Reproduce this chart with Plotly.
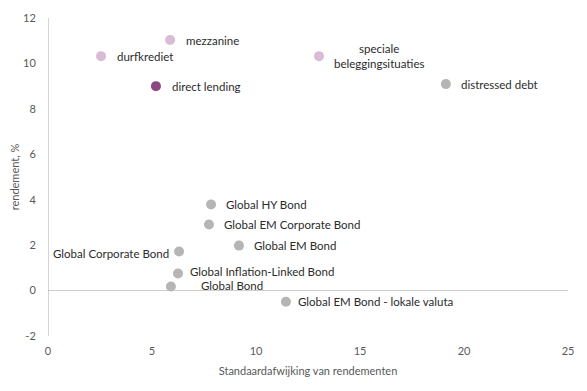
import plotly.graph_objects as go

names = ["durfkrediet", "mezzanine", "direct lending", "speciale<br>beleggingsituaties",
         "distressed debt", "Global HY Bond", "Global EM Corporate Bond", "Global EM Bond",
         "Global Corporate Bond", "Global Inflation-Linked Bond", "Global Bond",
         "Global EM Bond - lokale valuta"]
risk = [2.55, 5.87, 5.19, 13.03, 19.13, 7.84, 7.74, 9.18, 6.30, 6.25, 5.91, 11.44]
ret = [10.32, 11.03, 9.0, 10.32, 9.09, 3.79, 2.91, 1.98, 1.72, 0.75, 0.18, -0.49]
groups = ["light", "light", "dark", "light", "grey", "grey", "grey", "grey", "grey", "grey", "grey", "grey"]
y_ticks = [-2, 0, 2, 4, 6, 8, 10, 12]
y_ticklabels = ["-2", "0", "2", "4", "6", "8", "10", "12"]
x_ticks = [0, 5, 10, 15, 20, 25]

colors = {"light": "#d7bcd4", "dark": "#8a4a80", "grey": "#b5b5b5"}
# label placement (style only)
xanchors = ["left", "left", "left", "center", "left", "left", "left", "left", "right", "left", "left", "left"]
xshifts = [14, 14, 14, 60, 13, 13, 13, 13, -8, 10, 28, 10]
yshifts = [0, 0, 0, 0, 0, 0, 0, 0, -2, 2, 1, 0]

fig = go.Figure()
fig.add_trace(go.Scatter(
    x=risk, y=ret, mode="markers",
    marker=dict(size=10, color=[colors[g] for g in groups], line=dict(width=0)),
    hoverinfo="skip", showlegend=False))

for n, xv, yv, xa, xs, ys in zip(names, risk, ret, xanchors, xshifts, yshifts):
    fig.add_annotation(x=xv, y=yv, text=n, showarrow=False, xanchor=xa, yanchor="middle",
                       xshift=xs, yshift=ys, align="center",
                       font=dict(size=11.5, color="#2b2b2b", family="Lato"))

fig.update_layout(
    width=579, height=383,
    margin=dict(l=40, r=19, t=10, b=55),
    paper_bgcolor="white", plot_bgcolor="white",
    font=dict(family="Lato", color="#595959", size=11),
    xaxis=dict(range=[0, 25], tickvals=x_ticks, showgrid=False, zeroline=False,
               showline=False, ticks="outside", ticklen=5, tickcolor="rgba(0,0,0,0)",
               automargin=False,
               title=dict(text="Standaardafwijking van rendementen",
                          font=dict(size=11, color="#595959"), standoff=11)),
    yaxis=dict(range=[-2, 12], tickvals=y_ticks, ticktext=y_ticklabels, showgrid=False,
               zeroline=True, zerolinecolor="#cfcfcf", zerolinewidth=1, showline=False,
               ticks="outside", ticklen=9, tickcolor="rgba(0,0,0,0)", automargin=False,
               title=dict(text="rendement, %", font=dict(size=11, color="#595959"), standoff=6)),
)
fig.add_shape(type="line", xref="x", yref="y", x0=0, x1=0, y0=-2, y1=12,
              line=dict(color="#aaaaaa", width=1))
fig.write_html("out.html")
